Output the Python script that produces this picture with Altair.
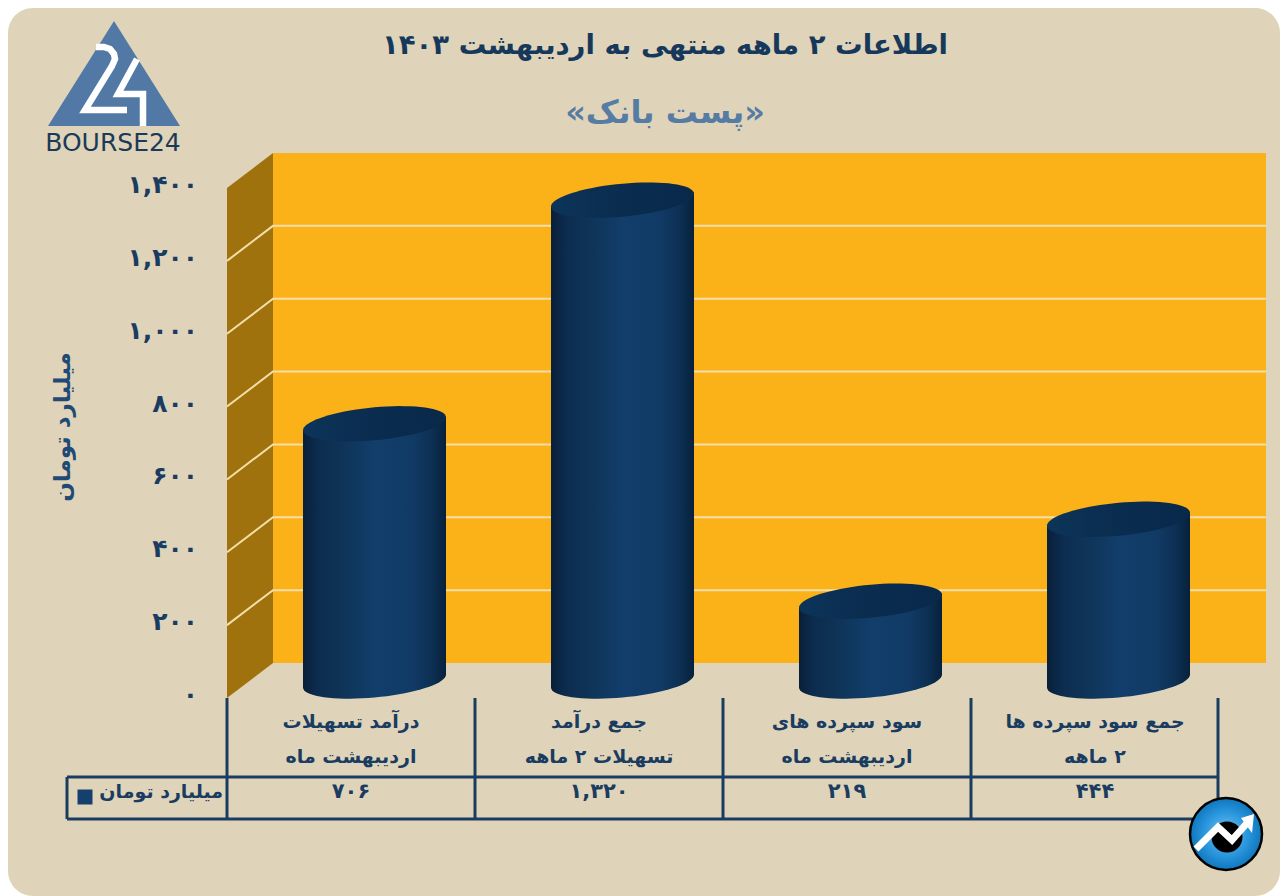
import math
import altair as alt
import pandas as pd

# ---- data
line1 = ["درآمد تسهیلات", "جمع درآمد", "سود سپرده های", "جمع سود سپرده ها"]
line2 = ["اردیبهشت ماه", "تسهیلات ۲ ماهه", "اردیبهشت ماه", "\u200f۲ ماهه"]
values = [706, 1320, 219, 444]
value_labels = ["۷۰۶", "۱,۳۲۰", "۲۱۹", "۴۴۴"]
ticks = [0, 200, 400, 600, 800, 1000, 1200, 1400]
tick_labels = ["۰", "۲۰۰", "۴۰۰", "۶۰۰", "۸۰۰", "۱,۰۰۰", "۱,۲۰۰", "۱,۴۰۰"]
title_text = "اطلاعات ۲ ماهه منتهی به اردیبهشت ۱۴۰۳"
subtitle_text = "«پست بانک»"
unit_text = "میلیارد تومان"

W, H = 1272, 888
OX, OY = 8, 8
PX_PER_VALUE = 510 / 1400
PX_PER_CAT = 248
X0, Y0 = 227, 698
NAVY = "#1a3c61"
FONT = "DejaVu Sans"

def xp(px):
    return (px - X0) / PX_PER_CAT

def yp(py):
    return (Y0 - py) / PX_PER_VALUE

xscale = alt.Scale(domain=[xp(OX), xp(OX + W)], range=[0, W], nice=False, zero=False)
yscale = alt.Scale(domain=[yp(OY + H), yp(OY)], range=[H, 0], nice=False, zero=False)
X = alt.X("x:Q", scale=xscale, axis=None)
X2 = alt.X2("x2:Q")
Y = alt.Y("y:Q", scale=yscale, axis=None)
Y2 = alt.Y2("y2:Q")

def rect(x1, x2, y1, y2, **kw):
    d = pd.DataFrame({"x": [xp(x1)], "x2": [xp(x2)], "y": [yp(y1)], "y2": [yp(y2)]})
    return alt.Chart(d).mark_rect(**kw).encode(x=X, x2=X2, y=Y, y2=Y2)

def seg(points, color, width, **kw):
    d = pd.DataFrame({"x": [xp(p[0]) for p in points], "y": [yp(p[1]) for p in points], "o": range(len(points))})
    return alt.Chart(d).mark_line(color=color, strokeWidth=width, clip=False, **kw).encode(
        x=X, y=Y, order="o:Q")

def text(rows, **kw):
    d = pd.DataFrame(rows, columns=["x", "y", "t"])
    d["x"] = d["x"].map(xp)
    d["y"] = d["y"].map(yp)
    kw.setdefault("font", FONT)
    kw.setdefault("fontWeight", "bold")
    kw.setdefault("color", NAVY)
    kw.setdefault("baseline", "middle")
    return alt.Chart(d).mark_text(**kw).encode(x=X, y=Y, text="t:N")

def sym(px, py, path, diameter, **kw):
    d = pd.DataFrame({"x": [xp(c) for c in px], "y": [yp(c) for c in py]})
    return alt.Chart(d).mark_point(shape=path, size=diameter ** 2, opacity=1, **kw).encode(x=X, y=Y)

def ell_path(rx=71.5, ry=16.5, shear=0.09, half=71.5, n=72):
    pts = []
    for i in range(n):
        t = 2 * math.pi * i / n
        x = rx * math.cos(t)
        y = ry * math.sin(t) - shear * x
        pts.append(f"{x / half:.4f},{y / half:.4f}")
    return "M" + " L".join(pts) + " Z"

def linear(stops):
    return {"gradient": "linear", "x1": 0, "x2": 1, "y1": 0, "y2": 0,
            "stops": [{"offset": o, "color": c} for o, c in stops]}

body_grad = linear([(0, "#081f38"), (0.1, "#0c2c4e"), (0.3, "#0f3559"), (0.5, "#123e6b"),
                    (0.75, "#113b67"), (0.9, "#0d3054"), (1, "#07213b")])
top_grad = linear([(0, "#0c3459"), (0.5, "#0a2c4f"), (1, "#08294a")])

background = rect(OX, OX + W, OY, OY + H, color="#dfd4b9", cornerRadius=25)
wall = rect(273, 1266, 153, 663, color="#fbb118")

side_d = pd.DataFrame({"x": [xp(227), xp(273)], "y": [yp(698), yp(663)], "y2": [yp(188), yp(153)]})
side = alt.Chart(side_d).mark_area(color="#a0720d", orient="vertical").encode(x=X, y=Y, y2=Y2)

depth_v = 35 / PX_PER_VALUE
grid_rows = []
for v in ticks[1:-1]:
    grid_rows += [{"x": xp(227), "y": v, "v": v, "o": 0},
                  {"x": xp(273), "y": v + depth_v, "v": v, "o": 1},
                  {"x": xp(1266), "y": v + depth_v, "v": v, "o": 2}]
grid = alt.Chart(pd.DataFrame(grid_rows)).mark_line(color="#f3dfa8", strokeWidth=2).encode(
    x=X, y=Y, detail="v:N", order="o:Q")

# cylinders
BASE_PY = 681
SKEW = 6.5
LEFTS = [303 + i * PX_PER_CAT for i in range(4)]
body_rows = []
for i, v in enumerate(values):
    l = LEFTS[i]
    base_v = yp(BASE_PY)
    s = SKEW / PX_PER_VALUE
    body_rows += [{"x": xp(l), "y": base_v - s, "y2": base_v + v - s, "b": i},
                  {"x": xp(l + 143), "y": base_v + s, "y2": base_v + v + s, "b": i}]
bodies = alt.Chart(pd.DataFrame(body_rows)).mark_area(fill=body_grad, orient="vertical", stroke=None).encode(
    x=X, y=Y, y2=Y2, detail="b:N")
ELL = ell_path()
centres = [l + 71.5 for l in LEFTS]
bottoms = sym(centres, [BASE_PY] * 4, ELL, 143, filled=True, fill=body_grad, strokeWidth=0)
tops = sym(centres, [BASE_PY - v * PX_PER_VALUE for v in values], ELL, 143, filled=True, fill=top_grad, strokeWidth=0)

# table
table = [
    seg([(x, 698), (x, 819)], NAVY, 3) for x in [227, 475, 723, 971, 1218]
] + [
    seg([(67, 777), (1218, 777)], NAVY, 3),
    seg([(67, 819), (1218, 819)], NAVY, 3),
    seg([(67, 777), (67, 819)], NAVY, 3),
]
mids = [X0 + (i + 0.5) * PX_PER_CAT for i in range(4)]
cat1 = text([(m, 722, t) for m, t in zip(mids, line1)], fontSize=19, align="center")
cat2 = text([(m, 757, t) for m, t in zip(mids, line2)], fontSize=19, align="center")
vals = text([(m, 792, t) for m, t in zip(mids, value_labels)], fontSize=21, align="center")
unit_row = text([(223, 792, unit_text)], fontSize=19, align="right")
key = sym([85], [797], "square", 15, filled=True, fill="#15406e", strokeWidth=0)

ylabels = text([(198, Y0 - v * PX_PER_VALUE - 3, t) for v, t in zip(ticks, tick_labels)], fontSize=25, align="right")
ytitle = text([(63, 427, unit_text)], fontSize=23, align="center", angle=270, color="#1f4a75")
title = text([(665, 46, title_text)], fontSize=27.5, align="center", color="#16395b")
subtitle = text([(665, 113, subtitle_text)], fontSize=32, align="center", color="#567ca3")

# logo
LC = (114, 80)
LH = 70.0
def lp(points):
    return "M" + " L".join(f"{(a - LC[0]) / LH:.4f},{(b - LC[1]) / LH:.4f}" for a, b in points)
tri = sym([LC[0]], [LC[1]], lp([(114, 21), (180, 126), (48, 126)]) + " Z", 2 * LH, filled=True, fill="#5279a5", strokeWidth=0)
two = sym([LC[0]], [LC[1]], lp([(96, 47), (104, 47), (110, 49), (114, 54), (115, 59), (112, 66), (85, 110), (127, 110)]),
          2 * LH, filled=False, stroke="white", strokeWidth=6.5)
four = sym([LC[0]], [LC[1]], lp([(137, 59), (118, 94), (143, 94), (143, 126)]),
           2 * LH, filled=False, stroke="white", strokeWidth=6.5)
brand = text([(113, 143, "BOURSE24")], fontSize=25, fontWeight="normal", align="center", color="#1b3a57")

# badge
BC = (1226, 834)
BH = 37.0
def bp(points):
    return "M" + " L".join(f"{(a - BC[0]) / BH:.4f},{(b - BC[1]) / BH:.4f}" for a, b in points)
radial = {"gradient": "radial", "x1": 0.5, "y1": 0.5, "x2": 0.5, "y2": 0.5, "r1": 0, "r2": 0.5,
          "stops": [{"offset": 0, "color": "#7cc6ee"}, {"offset": 0.6, "color": "#2a97de"},
                    {"offset": 1, "color": "#0f76bd"}]}
disc = sym([BC[0]], [BC[1]], "circle", 72, filled=True, fill=radial, stroke="black", strokeWidth=2.5)
core = sym([1227], [837], "circle", 31, filled=True, fill="black", strokeWidth=0)
squiggle = sym([BC[0]], [BC[1]], bp([(1196, 849), (1218, 827), (1232, 840), (1248, 822)]), 2 * BH,
               filled=False, stroke="white", strokeWidth=7)
arrow = sym([BC[0]], [BC[1]], bp([(1254, 814), (1252, 833), (1241, 818)]) + " Z", 2 * BH,
            filled=True, fill="white", strokeWidth=0)

chart = alt.layer(
    background, wall, side, grid, bodies, bottoms, tops, *table, cat1, cat2, vals, unit_row, key,
    ylabels, ytitle, title, subtitle, tri, two, four, brand, disc, core, squiggle, arrow,
).properties(
    width=W, height=H, padding=0, background="white",
    autosize=alt.AutoSizeParams(type="none"),
).configure_view(stroke=None)

chart.save("out.html", embed_options={"renderer": "svg", "actions": False})
